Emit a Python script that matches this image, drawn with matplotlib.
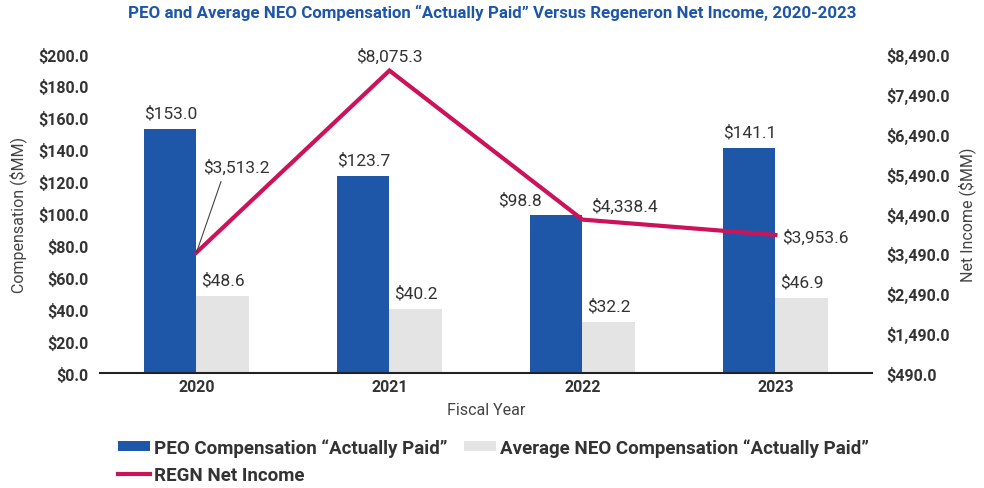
import matplotlib.pyplot as plt
import numpy as np

years = ["2020", "2021", "2022", "2023"]
peo = [153.0, 123.7, 98.8, 141.1]
neo = [48.6, 40.2, 32.2, 46.9]
net_income = [3513.2, 8075.3, 4338.4, 3953.6]

left_ticks = [0, 20, 40, 60, 80, 100, 120, 140, 160, 180, 200]
right_ticks = [490, 1490, 2490, 3490, 4490, 5490, 6490, 7490, 8490]

BLUE = "#1f57a8"
GRAY = "#e4e4e4"
RED = "#cc1259"
TXT = "#333333"

plt.rcParams['font.family'] = ['Roboto', 'DejaVu Sans']

fig = plt.figure(figsize=(9.84, 4.89), dpi=100)
ax = fig.add_axes([0.1016, 0.235, 0.7845, 0.6525])
ax2 = ax.twinx()

x = np.arange(len(years))
w = 0.27
ax.bar(x - w / 2, peo, w, color=BLUE, label="PEO Compensation \u201cActually Paid\u201d", zorder=2)
ax.bar(x + w / 2, neo, w, color=GRAY, label="Average NEO Compensation \u201cActually Paid\u201d", zorder=2)
ax2.plot(x, net_income, color=RED, lw=3, label="REGN Net Income", solid_joinstyle='miter')

ax.set_xlim(-0.5, 3.5)
ax.set_ylim(0, 200)
ax2.set_ylim(490, 8490)
ax.set_yticks(left_ticks)
ax.set_yticklabels([f"${v:,.1f}" for v in left_ticks], fontweight='bold', fontsize=11.5, color=TXT)
ax2.set_yticks(right_ticks)
ax2.set_yticklabels([f"${v:,.1f}" for v in right_ticks], fontweight='bold', fontsize=11.5, color=TXT)
ax.set_xticks(x)
ax.set_xticklabels(years, fontweight='bold', fontsize=11.5, color=TXT)
ax.tick_params(length=0)
ax2.tick_params(length=0, pad=10)
ax.tick_params(axis='y', pad=8)
ax.tick_params(axis='x', pad=4)

for a in (ax, ax2):
    for s in a.spines.values():
        s.set_visible(False)
ax.spines['bottom'].set_visible(True)
ax.spines['bottom'].set_linewidth(1.5)
ax.spines['bottom'].set_color("#222222")

ax.set_xlabel("Fiscal Year", fontsize=11.5, color="#444444", labelpad=6)
ax.set_ylabel("Compensation ($MM)", fontsize=11.5, color="#444444")
ax.yaxis.set_label_coords(-0.095, 0.5)
ax2.set_ylabel("Net Income ($MM)", fontsize=11.5, color="#444444")
ax2.yaxis.set_label_coords(1.112, 0.5)

# bar labels
peo_dx = [0, 0, -0.19, 0]
for i, v in enumerate(peo):
    ax.annotate(f"${v:.1f}", (x[i] - w / 2 + peo_dx[i], v), xytext=(0, 6), textcoords='offset points',
                ha='center', va='bottom', fontsize=12.5, color=TXT)
for i, v in enumerate(neo):
    ax.annotate(f"${v:.1f}", (x[i] + w / 2, v), xytext=(0, 6), textcoords='offset points',
                ha='center', va='bottom', fontsize=12.5, color=TXT)

# line labels
ax2.annotate(f"${net_income[0]:,.1f}", (x[0], net_income[0]), xytext=(5, 56), textcoords='offset points',
             ha='left', va='bottom', fontsize=12.5, color=TXT,
             arrowprops=dict(arrowstyle='-', color='#444444', lw=0.8, shrinkA=3, shrinkB=0,
                             relpos=(0.3, 0)))
ax2.annotate(f"${net_income[1]:,.1f}", (x[1], net_income[1]), xytext=(0, 5), textcoords='offset points',
             ha='center', va='bottom', fontsize=12.5, color=TXT)
ax2.annotate(f"${net_income[2]:,.1f}", (x[2], net_income[2]), xytext=(6, 4), textcoords='offset points',
             ha='left', va='bottom', fontsize=12.5, color=TXT)
ax2.annotate(f"${net_income[3]:,.1f}", (x[3], net_income[3]), xytext=(5, -1), textcoords='offset points',
             ha='left', va='center', fontsize=12.5, color=TXT)

fig.suptitle("PEO and Average NEO Compensation \u201cActually Paid\u201d Versus Regeneron Net Income, 2020-2023",
             x=0.5, y=0.99, fontsize=12.2, fontweight='bold', color=BLUE)

h1, l1 = ax.get_legend_handles_labels()
h2, l2 = ax2.get_legend_handles_labels()
handles = [h1[0], h2[0], h1[1]]
labels = [l1[0], l2[0], l1[1]]
fig.legend(handles, labels, ncol=2, loc='upper left', bbox_to_anchor=(0.103, 0.136),
           frameon=False, handlelength=1.7, handleheight=0.45, handletextpad=0.2,
           columnspacing=0.9, labelspacing=0.48,
           prop={'weight': 'bold', 'size': 13.5}, labelcolor=TXT)

fig.savefig("out.png", dpi=100)
